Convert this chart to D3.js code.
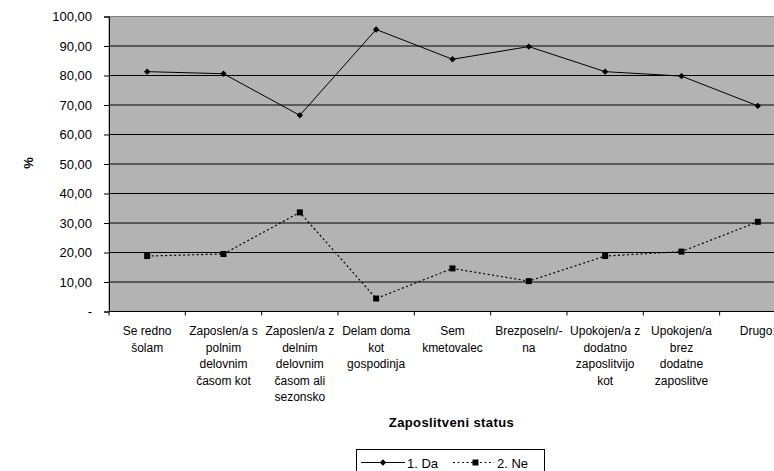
<!DOCTYPE html>
<html>
<head>
<meta charset="utf-8">
<script src="https://cdn.jsdelivr.net/npm/d3@7"></script>
<style>
html,body{margin:0;padding:0;background:#fff;overflow:hidden;}
svg{display:block;font-family:"Liberation Sans",Arial,sans-serif;}
</style>
</head>
<body>
<svg id="chart" width="774" height="471"></svg>
<script>
const categories = [
  "Se redno šolam",
  "Zaposlen/a s polnim delovnim časom kot",
  "Zaposlen/a z delnim delovnim časom ali sezonsko",
  "Delam doma kot gospodinja",
  "Sem kmetovalec",
  "Brezposeln/-na",
  "Upokojen/a z dodatno zaposlitvijo kot",
  "Upokojen/a brez dodatne zaposlitve",
  "Drugo:"
];
const categoryLines = [
  ["Se redno", "šolam"],
  ["Zaposlen/a s", "polnim", "delovnim", "časom kot"],
  ["Zaposlen/a z", "delnim", "delovnim", "časom ali", "sezonsko"],
  ["Delam doma", "kot", "gospodinja"],
  ["Sem", "kmetovalec"],
  ["Brezposeln/-", "na"],
  ["Upokojen/a z", "dodatno", "zaposlitvijo", "kot"],
  ["Upokojen/a", "brez", "dodatne", "zaposlitve"],
  ["Drugo:"]
];
const seriesNames = ["1. Da", "2. Ne"];
const valuesDa = [81.3, 80.6, 66.5, 95.6, 85.5, 89.8, 81.3, 79.8, 69.7];
const valuesNe = [18.8, 19.5, 33.6, 4.4, 14.6, 10.3, 18.8, 20.3, 30.4];
const yTicks = [0, 10, 20, 30, 40, 50, 60, 70, 80, 90, 100];
const yTitle = "%";
const xTitle = "Zaposlitveni status";

(function () {
const svg = d3.select("#chart");
const pLeft = 109, pTop = 16.5, pBottom = 311.5, bandW = 76.33;
const x = d3.scaleBand().domain(categories).range([pLeft, pLeft + bandW * categories.length]).padding(0);
const y = d3.scaleLinear().domain([0, 100]).range([pBottom, pTop]);
const fmt = v => v === 0 ? "-" : d3.format(".2f")(v).replace(".", ",");

// plot background
svg.append("rect").attr("x", pLeft).attr("y", pTop)
  .attr("width", x.range()[1] - pLeft).attr("height", pBottom - pTop)
  .attr("fill", "#b3b3b3").attr("stroke", "#808080").attr("stroke-width", 1);

// gridlines
svg.append("g").selectAll("line").data(yTicks.filter(t => t > 0 && t < 100)).join("line")
  .attr("x1", pLeft).attr("x2", x.range()[1])
  .attr("y1", d => y(d)).attr("y2", d => y(d))
  .attr("stroke", "#000").attr("stroke-width", 1);

// y axis
const yAxis = d3.axisLeft(y).tickValues(yTicks).tickFormat(fmt).tickSize(5).tickPadding(12);
const gy = svg.append("g").attr("transform", `translate(${pLeft},0)`).call(yAxis);
gy.select(".domain").attr("stroke", "#000");
gy.selectAll(".tick line").attr("stroke", "#000");
gy.selectAll(".tick text").attr("font-size", "13px").attr("fill", "#000")
  .attr("font-family", "'Liberation Sans',Arial,sans-serif");

// x axis line and ticks at boundaries
svg.append("line").attr("x1", pLeft).attr("x2", x.range()[1])
  .attr("y1", pBottom).attr("y2", pBottom).attr("stroke", "#000");
const bounds = categories.map(c => x(c)).concat([x.range()[1]]);
svg.append("g").selectAll("line").data(bounds).join("line")
  .attr("x1", d => d).attr("x2", d => d).attr("y1", pBottom).attr("y2", pBottom + 4)
  .attr("stroke", "#000");

// x labels
const xl = svg.append("g").attr("font-size", "12px").attr("fill", "#000").attr("text-anchor", "middle");
categories.forEach((c, i) => {
  const t = xl.append("text").attr("x", x(c) + x.bandwidth() / 2).attr("y", 335);
  categoryLines[i].forEach((ln, j) => {
    t.append("tspan").attr("x", x(c) + x.bandwidth() / 2).attr("y", 335 + j * 16.5).text(ln);
  });
});

// titles
svg.append("text").attr("transform", `translate(33,163) rotate(-90)`)
  .attr("text-anchor", "middle").attr("font-size", "13px").attr("font-weight", "bold").text(yTitle);
svg.append("text").attr("x", 451.5).attr("y", 427).attr("text-anchor", "middle")
  .attr("font-size", "13px").attr("font-weight", "bold").attr("letter-spacing", "0.4px").text(xTitle);

// lines
const cx = (c) => x(c) + x.bandwidth() / 2;
const line = d3.line().x(d => cx(d.c)).y(d => y(d.v));
const daData = categories.map((c, i) => ({c, v: valuesDa[i]}));
const neData = categories.map((c, i) => ({c, v: valuesNe[i]}));

svg.append("path").datum(daData).attr("d", line).attr("fill", "none").attr("stroke", "#000").attr("stroke-width", 1);
svg.append("path").datum(neData).attr("d", line).attr("fill", "none").attr("stroke", "#000")
  .attr("stroke-width", 1.2).attr("stroke-dasharray", "2,2.5");

const diamond = d3.symbol().type(d3.symbolDiamond2).size(26);
svg.append("g").selectAll("path").data(daData).join("path")
  .attr("transform", d => `translate(${cx(d.c)},${y(d.v)})`).attr("d", diamond).attr("fill", "#000");
svg.append("g").selectAll("rect").data(neData).join("rect")
  .attr("x", d => cx(d.c) - 3).attr("y", d => y(d.v) - 3).attr("width", 6).attr("height", 6).attr("fill", "#000");

// legend
const lg = svg.append("g");
lg.append("rect").attr("x", 356.5).attr("y", 449.5).attr("width", 188).attr("height", 30)
  .attr("fill", "#fff").attr("stroke", "#000").attr("stroke-width", 1);
const ly = 462.5;
lg.append("line").attr("x1", 361).attr("x2", 405).attr("y1", ly).attr("y2", ly).attr("stroke", "#000");
lg.append("path").attr("transform", `translate(383,${ly})`).attr("d", diamond).attr("fill", "#000");
lg.append("text").attr("x", 407).attr("y", 467.5).attr("font-size", "13px").text(seriesNames[0]);
lg.append("line").attr("x1", 453).attr("x2", 494).attr("y1", ly).attr("y2", ly).attr("stroke", "#000")
  .attr("stroke-width", 1.2).attr("stroke-dasharray", "2,2.5");
lg.append("rect").attr("x", 472.5).attr("y", ly - 3).attr("width", 6).attr("height", 6).attr("fill", "#000");
lg.append("text").attr("x", 497).attr("y", 467.5).attr("font-size", "13px").text(seriesNames[1]);
})();
</script>
</body>
</html>
